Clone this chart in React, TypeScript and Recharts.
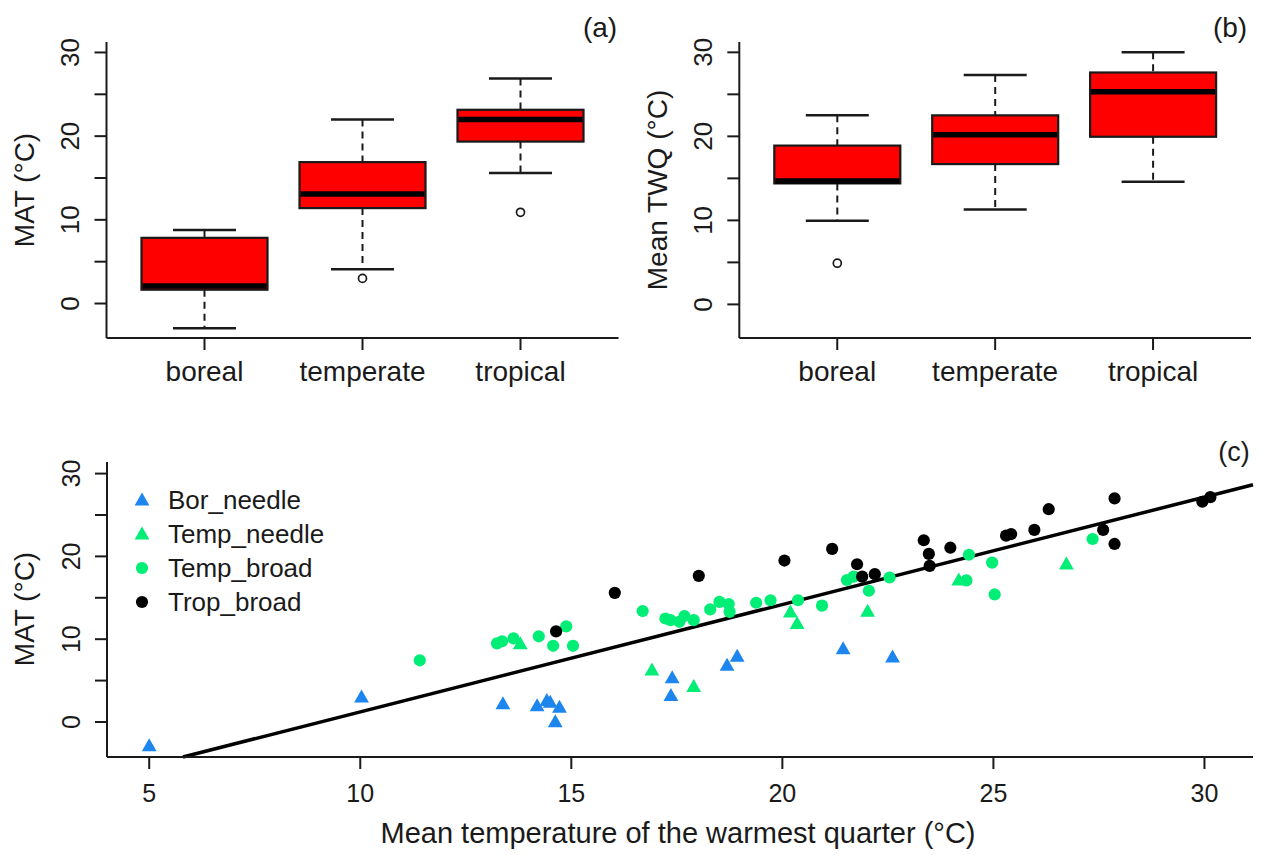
import React from 'react';
import {
  ComposedChart,
  Bar,
  XAxis,
  YAxis,
  ScatterChart,
  Scatter,
  ReferenceLine,
  Legend,
} from 'recharts';

const FONT = '"Liberation Sans", Arial, Helvetica, sans-serif';
const INK = '#1a1a1a';
const BOX_FILL = '#ff0000';
const BLUE = '#1c86ee';
const GREEN = '#00ee76';

// ---------- panel (a) / (b): box plots ----------
const categories = ['boreal', 'temperate', 'tropical'];

const matWhiskerLow = [-2.95, 4.1, 15.6];
const matQ1 = [1.65, 11.4, 19.35];
const matMedian = [2.1, 13.1, 22.0];
const matQ3 = [7.85, 16.9, 23.15];
const matWhiskerHigh = [8.8, 22.0, 26.9];
const matOutliers: number[][] = [[], [3.0], [10.9]];

const twqWhiskerLow = [9.95, 11.3, 14.6];
const twqQ1 = [14.4, 16.7, 19.95];
const twqMedian = [14.7, 20.2, 25.3];
const twqQ3 = [18.9, 22.5, 27.6];
const twqWhiskerHigh = [22.5, 27.3, 30.0];
const twqOutliers: number[][] = [[4.9], [], []];

const boxTicks = [0, 5, 10, 15, 20, 25, 30];

// ---------- panel (c): scatter ----------
const borNeedleTWQ = [5.0, 10.03, 13.38, 14.19, 14.42, 14.5, 14.72, 14.62, 17.39, 17.36, 18.69, 18.93, 21.44, 22.61];
const borNeedleMAT = [-2.85, 3.02, 2.2, 1.98, 2.6, 2.4, 1.8, 0.05, 5.35, 3.2, 6.85, 7.95, 8.85, 7.85];

const tempNeedleTWQ = [13.79, 16.91, 17.9, 20.19, 20.35, 22.02, 24.18, 26.73];
const tempNeedleMAT = [9.45, 6.3, 4.3, 13.3, 11.9, 13.4, 17.15, 19.1];

const tempBroadTWQ = [11.41, 13.24, 13.36, 13.63, 14.23, 14.57, 14.88, 15.04, 16.69, 17.23, 17.35, 17.56, 17.68, 17.9, 18.29, 18.51, 18.73, 18.75, 19.38, 19.72, 20.37, 20.94, 21.53, 21.69, 22.05, 22.54, 24.36, 24.42, 24.97, 25.03, 27.35];
const tempBroadMAT = [7.45, 9.5, 9.75, 10.1, 10.35, 9.2, 11.55, 9.2, 13.4, 12.5, 12.3, 12.1, 12.8, 12.3, 13.6, 14.5, 14.25, 13.3, 14.4, 14.7, 14.7, 14.05, 17.15, 17.55, 15.85, 17.45, 17.1, 20.2, 19.25, 15.4, 22.1];

const tropBroadTWQ = [14.64, 16.03, 18.02, 20.05, 21.18, 21.77, 21.89, 22.19, 23.35, 23.47, 23.49, 23.98, 25.3, 25.42, 25.97, 26.31, 27.6, 27.87, 27.87, 29.95, 30.14];
const tropBroadMAT = [10.95, 15.6, 17.65, 19.5, 20.9, 19.05, 17.55, 17.85, 21.95, 20.3, 18.85, 21.05, 22.5, 22.7, 23.2, 25.7, 23.2, 27.0, 21.5, 26.6, 27.15];

const scatterXTicks = [5, 10, 15, 20, 25, 30];
const scatterYTicks = [0, 5, 10, 15, 20, 25, 30];

// regression line endpoints
const regLineTWQ = [5.8, 31.15];
const regLineMAT = [-4.23, 28.65];

const seriesNames = ['Bor_needle', 'Temp_needle', 'Temp_broad', 'Trop_broad'];

// ---------- helpers ----------
function buildBoxData(lo: number[], q1: number[], med: number[], q3: number[], hi: number[], out: number[][]) {
  return categories.map((cat, i) => ({ cat, lo: lo[i], q1: q1[i], med: med[i], q3: q3[i], hi: hi[i], out: out[i] }));
}

function pairs(xs: number[], ys: number[]) {
  return xs.map((x, i) => ({ x, y: ys[i] }));
}

const matData = buildBoxData(matWhiskerLow, matQ1, matMedian, matQ3, matWhiskerHigh, matOutliers);
const twqData = buildBoxData(twqWhiskerLow, twqQ1, twqMedian, twqQ3, twqWhiskerHigh, twqOutliers);

const borNeedle = pairs(borNeedleTWQ, borNeedleMAT);
const tempNeedle = pairs(tempNeedleTWQ, tempNeedleMAT);
const tempBroad = pairs(tempBroadTWQ, tempBroadMAT);
const tropBroad = pairs(tropBroadTWQ, tropBroadMAT);
const regLine = regLineTWQ.map((x, i) => ({ x, y: regLineMAT[i] }));

function BoxShape(props: any) {
  const { x, y, width, height, payload } = props;
  if (!payload || height == null || isNaN(height)) return null;
  const top = Math.min(y, y + height);
  const h = Math.abs(height);
  const { lo, hi, q1, q3, med, out } = payload;
  const k = h / (hi - lo);
  const py = (v: number) => top + (hi - v) * k;
  const cx = x + width / 2;
  const capHalf = width / 4;
  return (
    <g>
      <line x1={cx} x2={cx} y1={py(hi)} y2={py(q3)} stroke={INK} strokeWidth={2} strokeDasharray="7 5" />
      <line x1={cx} x2={cx} y1={py(q1)} y2={py(lo)} stroke={INK} strokeWidth={2} strokeDasharray="7 5" />
      <line x1={cx - capHalf} x2={cx + capHalf} y1={py(hi)} y2={py(hi)} stroke={INK} strokeWidth={2.5} />
      <line x1={cx - capHalf} x2={cx + capHalf} y1={py(lo)} y2={py(lo)} stroke={INK} strokeWidth={2.5} />
      <rect x={x} y={py(q3)} width={width} height={py(q1) - py(q3)} fill={BOX_FILL} stroke={INK} strokeWidth={2.2} />
      <line x1={x + 1} x2={x + width - 1} y1={py(med)} y2={py(med)} stroke="#000" strokeWidth={5.5} />
      {(out || []).map((v: number, i: number) => (
        <circle key={i} cx={cx} cy={py(v)} r={4} fill="none" stroke={INK} strokeWidth={1.7} />
      ))}
    </g>
  );
}

function makeYTick(fontSize: number, shift: number) {
  return (props: any) => {
    const { x, y, payload } = props;
    const v = payload.value;
    if (v % 10 !== 0) return <g />;
    const bx = x - shift;
    return (
      <text x={bx} y={y} transform={`rotate(-90 ${bx} ${y})`} textAnchor="middle" fontFamily={FONT} fontSize={fontSize} fill={INK}>
        {v}
      </text>
    );
  };
}

function makeXTick(fontSize: number, dy: number) {
  return (props: any) => {
    const { x, y, payload } = props;
    return (
      <text x={x} y={y + dy} textAnchor="middle" fontFamily={FONT} fontSize={fontSize} fill={INK}>
        {payload.value}
      </text>
    );
  };
}

const axisStyle = { stroke: INK, strokeWidth: 2 };

function BoxPanel(props: { data: any[]; domain: [number, number]; yWidth: number; right: number; padding: number }) {
  const { data, domain, yWidth, right, padding } = props;
  return (
    <ComposedChart width={630} height={400} data={data} margin={{ top: 42, right, left: 0, bottom: 0 }}>
      <XAxis
        dataKey="cat"
        type="category"
        interval={0}
        padding={{ left: padding, right: padding }}
        height={62}
        tickSize={12}
        tickMargin={0}
        axisLine={axisStyle}
        tickLine={axisStyle}
        tick={makeXTick(28, 31)}
      />
      <YAxis
        type="number"
        domain={domain}
        allowDataOverflow
        ticks={boxTicks}
        width={yWidth}
        tickSize={12}
        tickMargin={0}
        axisLine={axisStyle}
        tickLine={axisStyle}
        tick={makeYTick(26, 15)}
      />
      <Bar dataKey={(d: any) => [d.lo, d.hi]} barSize={126} shape={BoxShape} isAnimationActive={false} />
    </ComposedChart>
  );
}

function triPath(cx: number, cy: number) {
  return `M${cx},${cy - 7.4} L${cx + 7.4},${cy + 5.6} L${cx - 7.4},${cy + 5.6} Z`;
}

function triangle(color: string) {
  return (p: any) => {
    const { cx, cy } = p;
    if (cx == null || cy == null) return <g />;
    return <path d={triPath(cx, cy)} fill={color} />;
  };
}

function dot(color: string) {
  return (p: any) => {
    const { cx, cy } = p;
    if (cx == null || cy == null) return <g />;
    return <circle cx={cx} cy={cy} r={6.1} fill={color} />;
  };
}

function LegendContent(props: any) {
  const payload = [...(props.payload || [])].sort(
    (a: any, b: any) => seriesNames.indexOf(a.value) - seriesNames.indexOf(b.value)
  );
  return (
    <svg width={240} height={140} style={{ overflow: 'visible' }}>
      {payload.map((entry: any, i: number) => {
        const cy = 15 + i * 34;
        const cx = 12;
        const color = entry.color;
        const isTri = entry.type === 'triangle';
        return (
          <g key={i}>
            {isTri ? <path d={triPath(cx, cy)} fill={color} /> : <circle cx={cx} cy={cy} r={6.1} fill={color} />}
            <text x={38} y={cy + 8.5} fontFamily={FONT} fontSize={26} fill={INK}>
              {entry.value}
            </text>
          </g>
        );
      })}
    </svg>
  );
}

function ScatterPanel() {
  return (
    <ScatterChart width={1261} height={425} margin={{ top: 32, right: 8, left: 0, bottom: 0 }}>
      <XAxis
        dataKey="x"
        type="number"
        domain={[4.0, 31.15]}
        allowDataOverflow
        ticks={scatterXTicks}
        height={98}
        tickSize={12}
        tickMargin={0}
        axisLine={axisStyle}
        tickLine={axisStyle}
        tick={makeXTick(25, 33)}
      />
      <YAxis
        dataKey="y"
        type="number"
        domain={[-4.23, 31.4]}
        allowDataOverflow
        ticks={scatterYTicks}
        width={107}
        tickSize={12}
        tickMargin={0}
        axisLine={axisStyle}
        tickLine={axisStyle}
        tick={makeYTick(25, 15)}
      />
      <Legend
        layout="vertical"
        align="center"
        verticalAlign="middle"
        content={LegendContent}
        wrapperStyle={{ position: 'absolute', left: 130, top: 55, width: 240, height: 140 }}
      />
      <ReferenceLine segment={regLine} stroke="#000" strokeWidth={3.5} ifOverflow="visible" />
      <Scatter name={seriesNames[0]} data={borNeedle} fill={BLUE} legendType="triangle" shape={triangle(BLUE)} isAnimationActive={false} />
      <Scatter name={seriesNames[1]} data={tempNeedle} fill={GREEN} legendType="triangle" shape={triangle(GREEN)} isAnimationActive={false} />
      <Scatter name={seriesNames[2]} data={tempBroad} fill={GREEN} legendType="circle" shape={dot(GREEN)} isAnimationActive={false} />
      <Scatter name={seriesNames[3]} data={tropBroad} fill="#000" legendType="circle" shape={dot('#000')} isAnimationActive={false} />
    </ScatterChart>
  );
}

export default function App() {
  return (
    <div style={{ position: 'absolute', left: 0, top: 0, width: 1261, height: 855, background: '#fff', overflow: 'hidden' }}>
      <div style={{ position: 'absolute', left: 0, top: 0 }}>
        <BoxPanel data={matData} domain={[-4.12, 31.25]} yWidth={106.5} right={11.5} padding={19} />
      </div>
      <div style={{ position: 'absolute', left: 630, top: 0 }}>
        <BoxPanel data={twqData} domain={[-4.0, 31.23]} yWidth={109.3} right={9} padding={19} />
      </div>
      <div style={{ position: 'absolute', left: 0, top: 430 }}>
        <ScatterPanel />
      </div>
      <svg width={1261} height={855} style={{ position: 'absolute', left: 0, top: 0, pointerEvents: 'none' }}>
        <g fontFamily={FONT} fill={INK}>
          <text x={600} y={37} fontSize={28} textAnchor="middle">(a)</text>
          <text x={1230} y={37} fontSize={28} textAnchor="middle">(b)</text>
          <text x={1234} y={461} fontSize={27} textAnchor="middle">(c)</text>
          <text x={34} y={190} fontSize={28} textAnchor="middle" transform="rotate(-90 34 190)">MAT (°C)</text>
          <text x={667} y={190} fontSize={28} textAnchor="middle" transform="rotate(-90 667 190)">Mean TWQ (°C)</text>
          <text x={34} y={609} fontSize={28} textAnchor="middle" transform="rotate(-90 34 609)">MAT (°C)</text>
          <text x={678} y={843} fontSize={29} textAnchor="middle">Mean temperature of the warmest quarter (°C)</text>
        </g>
      </svg>
    </div>
  );
}
